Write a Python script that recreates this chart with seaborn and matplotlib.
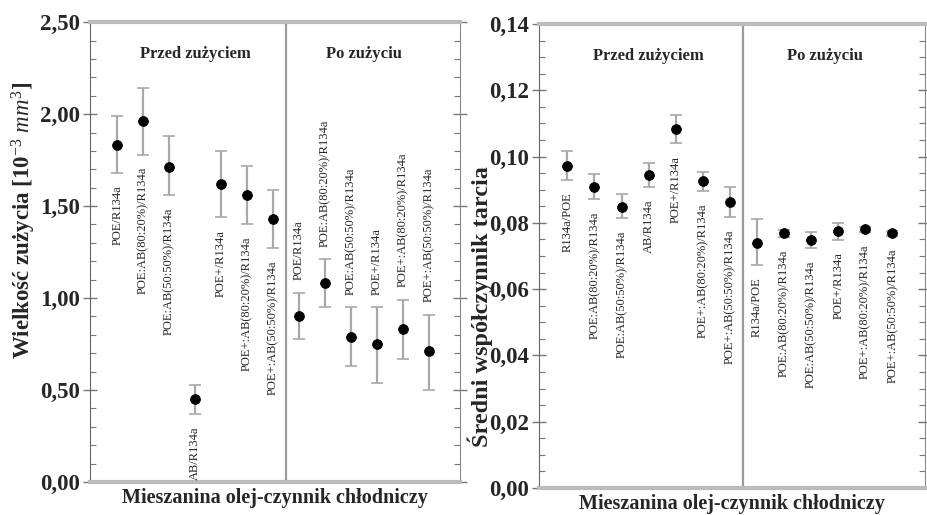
import matplotlib
matplotlib.use("Agg")
import matplotlib.pyplot as plt
from matplotlib.ticker import MultipleLocator, FuncFormatter
import numpy as np
import pandas as pd
import seaborn as sns

# data
wear_labels = ["POE/R134a", "POE:AB(80:20%)/R134a", "POE:AB(50:50%)/R134a", "AB/R134a",
               "POE+/R134a", "POE+:AB(80:20%)/R134a", "POE+:AB(50:50%)/R134a",
               "POE/R134a", "POE:AB(80:20%)/R134a", "POE:AB(50:50%)/R134a",
               "POE+/R134a", "POE+:AB(80:20%)/R134a", "POE+:AB(50:50%)/R134a"]
wear_mean = [1.83, 1.96, 1.71, 0.45, 1.62, 1.56, 1.43, 0.90, 1.08, 0.79, 0.75, 0.83, 0.71]
wear_lo = [1.68, 1.78, 1.56, 0.37, 1.44, 1.40, 1.27, 0.78, 0.95, 0.63, 0.54, 0.67, 0.50]
wear_hi = [1.99, 2.14, 1.88, 0.53, 1.80, 1.72, 1.59, 1.03, 1.21, 0.95, 0.95, 0.99, 0.91]
wear_label_above = [False] * 7 + [True] * 6

fric_labels = ["R134a/POE", "POE:AB(80:20%)/R134a", "POE:AB(50:50%)/R134a", "AB/R134a",
               "POE+/R134a", "POE+:AB(80:20%)/R134a", "POE+:AB(50:50%)/R134a",
               "R134a/POE", "POE:AB(80:20%)/R134a", "POE:AB(50:50%)/R134a",
               "POE+/R134a", "POE+:AB(80:20%)/R134a", "POE+:AB(50:50%)/R134a"]
fric_mean = [0.0972, 0.0909, 0.0849, 0.0944, 0.1083, 0.0926, 0.0862,
             0.0740, 0.0768, 0.0748, 0.0775, 0.0780, 0.0768]
fric_lo = [0.0929, 0.0872, 0.0814, 0.0907, 0.1040, 0.0897, 0.0819,
           0.0673, 0.0758, 0.0723, 0.0748, 0.0772, 0.0760]
fric_hi = [0.1018, 0.0947, 0.0886, 0.0980, 0.1125, 0.0954, 0.0909,
           0.0812, 0.0778, 0.0773, 0.0800, 0.0788, 0.0776]
fric_label_above = [False] * 13

n_before = 7
groups = ["Przed zużyciem", "Po zużyciu"]

sns.set_style("ticks")
plt.rcParams["font.family"] = ["Liberation Serif", "DejaVu Serif"]
plt.rcParams["mathtext.fontset"] = "custom"
plt.rcParams["mathtext.rm"] = "Liberation Serif"
plt.rcParams["mathtext.it"] = "Liberation Serif:italic"
plt.rcParams["mathtext.bf"] = "Liberation Serif:bold"

comma = FuncFormatter(lambda v, _: f"{v:.2f}".replace(".", ","))


def draw_panel(ax, labels, mean, lo, hi, above, ymax, major, minor,
               ylabel, ylabel_size, ylabel_xy):
    df = pd.DataFrame({"pos": np.arange(len(mean)), "mean": mean, "lo": lo, "hi": hi,
                       "label": labels, "above": above})
    ax.errorbar(df["pos"], df["mean"], yerr=[df["mean"] - df["lo"], df["hi"] - df["mean"]],
                fmt="none", ecolor="#a8a8a8", elinewidth=1.6, capsize=4, capthick=1.2, zorder=2)
    sns.scatterplot(data=df, x="pos", y="mean", ax=ax, color="black", s=50,
                    edgecolor="black", zorder=3, legend=False)
    for _, r in df.iterrows():
        if r["above"]:
            ax.annotate(r["label"], (r["pos"], r["hi"]), xytext=(0, 9), textcoords="offset points",
                        rotation=90, ha="center", va="bottom", fontsize=9)
        else:
            ax.annotate(r["label"], (r["pos"], r["lo"]), xytext=(0, -9), textcoords="offset points",
                        rotation=90, ha="center", va="top", fontsize=9)
    ax.axvline(n_before - 0.5, color="#9a9a9a", lw=1.6, zorder=1)
    ax.text((n_before - 1) / 2, 0.93, groups[0], transform=ax.get_xaxis_transform(),
            ha="center", va="center", fontsize=12, fontweight="bold")
    ax.text((n_before + len(mean) - 1) / 2, 0.93, groups[1], transform=ax.get_xaxis_transform(),
            ha="center", va="center", fontsize=12, fontweight="bold")

    ax.set_xlim(-1.05, 13.2)
    ax.set_ylim(0, ymax)
    ax.set_xticks([])
    ax.yaxis.set_major_locator(MultipleLocator(major))
    ax.yaxis.set_minor_locator(MultipleLocator(minor))
    ax.yaxis.set_major_formatter(comma)
    ax.tick_params(axis="y", which="major", direction="inout", length=10, width=1,
                   color="#777777", right=True, labelsize=16.5, pad=2)
    ax.tick_params(axis="y", which="minor", direction="in", length=4, width=0.8,
                   color="#777777", right=True)
    for lab in ax.get_yticklabels():
        lab.set_fontweight("bold")
    ax.spines["left"].set_color("#666666")
    ax.spines["right"].set_color("#888888")
    for s in ["top", "bottom"]:
        ax.spines[s].set_color("#bbbbbb")
        ax.spines[s].set_linewidth(3)
    ax.set_ylabel(ylabel, fontsize=ylabel_size, fontweight="bold")
    ax.yaxis.set_label_coords(*ylabel_xy)
    ax.set_xlabel("Mieszanina olej-czynnik chłodniczy", fontsize=14.5, fontweight="bold",
                  labelpad=4)


fig = plt.figure(figsize=(9.27, 5.15), dpi=100)
ax1 = fig.add_axes([0.0971, 0.064, 0.399, 0.893])
ax2 = fig.add_axes([0.5814, 0.0524, 0.4164, 0.901])

draw_panel(ax1, wear_labels, wear_mean, wear_lo, wear_hi, wear_label_above,
           2.5, 0.5, 0.1, "Wielkość zużycia [10$^{-3}$ $mm^3$]", 16.5, (-0.14, 0.57))
draw_panel(ax2, fric_labels, fric_mean, fric_lo, fric_hi, fric_label_above,
           0.14, 0.02, 0.005, "Średni współczynnik tarcia", 17.5, (-0.12, 0.39))

fig.savefig("out.png", dpi=100)
